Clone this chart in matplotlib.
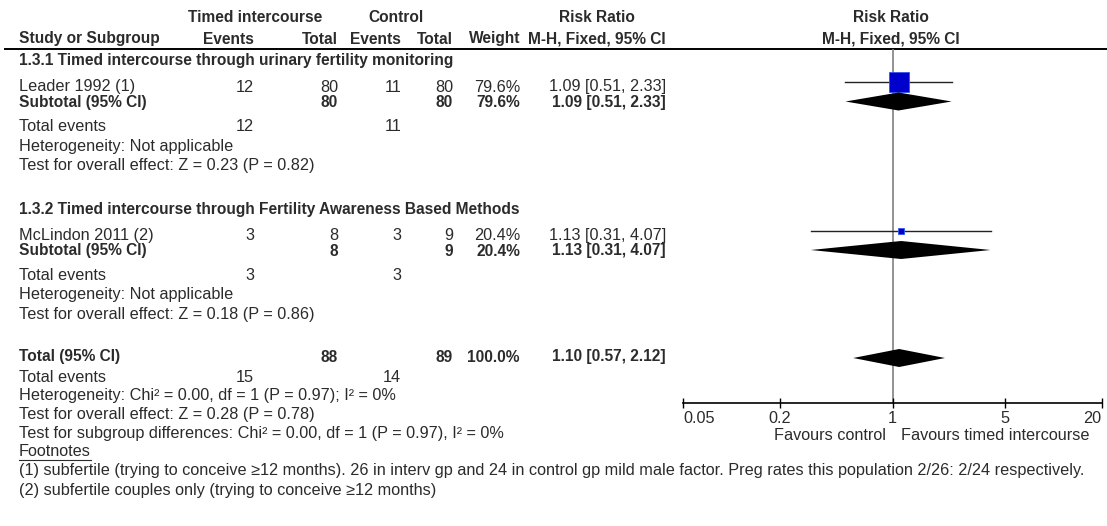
import matplotlib.pyplot as plt
from matplotlib.ticker import NullLocator

# Per-study data
studies = ["Leader 1992 (1)", "McLindon 2011 (2)"]
ti_events = [12, 3]
ti_total = [80, 8]
ctl_events = [11, 3]
ctl_total = [80, 9]
weights = [79.6, 20.4]
rr = [1.09, 1.13]
rr_lo = [0.51, 0.31]
rr_hi = [2.33, 4.07]

# Subgroup summaries
subgroups = ["1.3.1 Timed intercourse through urinary fertility monitoring",
             "1.3.2 Timed intercourse through Fertility Awareness Based Methods"]
sub_rr = [1.09, 1.13]
sub_lo = [0.51, 0.31]
sub_hi = [2.33, 4.07]
sub_overall = ["Test for overall effect: Z = 0.23 (P = 0.82)",
               "Test for overall effect: Z = 0.18 (P = 0.86)"]

# Pooled result
total_rr, total_lo, total_hi = 1.10, 0.57, 2.12
total_ti_events, total_ctl_events = 15, 14
total_weight = 100.0
total_notes = ["Heterogeneity: Chi² = 0.00, df = 1 (P = 0.97); I² = 0%",
               "Test for overall effect: Z = 0.28 (P = 0.78)",
               "Test for subgroup differences: Chi² = 0.00, df = 1 (P = 0.97), I² = 0%"]
footnotes = ["(1) subfertile (trying to conceive ≥12 months). 26 in interv gp and 24 in control gp mild male factor. "
             "Preg rates this population 2/26: 2/24 respectively.",
             "(2) subfertile couples only (trying to conceive ≥12 months)"]

axis_ticks = [0.05, 0.2, 1, 5, 20]
axis_labels = ["0.05", "0.2", "1", "5", "20"]

W, H = 1107, 526
plt.rcParams['font.family'] = ['Liberation Sans', 'DejaVu Sans']
FS, FS_B = 11.7, 11.2
TXT = '#2b2b2b'

fig = plt.figure(figsize=(W / 100, H / 100), dpi=100)
bg = fig.add_axes([0, 0, 1, 1])
bg.set_xlim(0, W)
bg.set_ylim(H, 0)
bg.axis('off')

# forest panel, y in pixel rows so it lines up with the table
px_left, px_right, px_top, px_axis = 683.3, 1101.7, 49, 403
ax = fig.add_axes([px_left / W, (H - px_axis) / H, (px_right - px_left) / W, (px_axis - px_top) / H])
ax.set_xscale('log')
ax.set_xlim(axis_ticks[0], axis_ticks[-1])
ax.patch.set_alpha(0)
for s in ['top', 'left', 'right']:
    ax.spines[s].set_visible(False)
ax.spines['bottom'].set_linewidth(1.2)
ax.set_yticks([])
ax.set_xticks(axis_ticks)
ax.set_xticklabels(axis_labels, color=TXT, fontsize=FS)
ax.xaxis.set_minor_locator(NullLocator())
ax.tick_params(axis='x', direction='inout', length=7, width=1, pad=2.5)
tl = ax.get_xticklabels()
tl[0].set_ha('left')
tl[-1].set_ha('right')
ax.axvline(1, color='#808080', lw=1.2, zorder=1)

ax.annotate("Favours control", xy=(1, 0), xycoords=('data', 'axes fraction'),
            xytext=(-5, -23.5), textcoords='offset points', ha='right', va='center',
            color=TXT, fontsize=FS)
ax.annotate("Favours timed intercourse", xy=(1, 0), xycoords=('data', 'axes fraction'),
            xytext=(6, -23.5), textcoords='offset points', ha='left', va='center',
            color=TXT, fontsize=FS)


def t(x, y, s, ha='left', bold=False):
    return bg.text(x, y, s, ha=ha, va='center', color=TXT,
                   fontweight='bold' if bold else 'normal',
                   fontsize=FS_B if bold else FS)


# header
X0 = 19
c_tie, c_tit, c_ce, c_ct, c_w, c_rr = 254, 338, 401, 453, 520, 666
t(255, 17, "Timed intercourse", 'center', True)
t(396, 17, "Control", 'center', True)
t(597, 17, "Risk Ratio", 'center', True)
t(891, 17, "Risk Ratio", 'center', True)
t(X0, 39, "Study or Subgroup", bold=True)
t(c_tie, 39, "Events", 'right', True)
t(c_tit, 39, "Total", 'right', True)
t(c_ce, 39, "Events", 'right', True)
t(c_ct, 39, "Total", 'right', True)
t(c_w, 39, "Weight", 'right', True)
t(597, 39, "M-H, Fixed, 95% CI", 'center', True)
t(891, 39, "M-H, Fixed, 95% CI", 'center', True)
bg.plot([5, W], [49, 49], color='black', lw=1.4)

# subgroup blocks
block_top = [61, 209.5]
for i in range(2):
    y0 = block_top[i]
    t(X0, y0, subgroups[i], bold=True)
    ys = y0 + 26
    t(X0, ys, studies[i])
    t(c_tie, ys, str(ti_events[i]), 'right')
    t(c_tit, ys, str(ti_total[i]), 'right')
    t(c_ce, ys, str(ctl_events[i]), 'right')
    t(c_ct, ys, str(ctl_total[i]), 'right')
    t(c_w, ys, f"{weights[i]:.1f}%", 'right')
    t(c_rr, ys, f"{rr[i]:.2f} [{rr_lo[i]:.2f}, {rr_hi[i]:.2f}]", 'right')
    ax.plot([rr_lo[i], rr_hi[i]], [ys - 5, ys - 5], color='#222222', lw=1, zorder=2)
    ax.plot(rr[i], ys - 5, marker='s', ms=0.25 * weights[i] * 0.72,
            mfc='#0000CC', mec='#3355EE', mew=0.6, zorder=3)

    ysub = ys + 15.5
    t(X0, ysub, "Subtotal (95% CI)", bold=True)
    t(c_tit, ysub, str(ti_total[i]), 'right', True)
    t(c_ct, ysub, str(ctl_total[i]), 'right', True)
    t(c_w, ysub, f"{weights[i]:.1f}%", 'right', True)
    t(c_rr, ysub, f"{sub_rr[i]:.2f} [{sub_lo[i]:.2f}, {sub_hi[i]:.2f}]", 'right', True)
    yd = ysub - 1
    ax.fill([sub_lo[i], sub_rr[i], sub_hi[i], sub_rr[i]], [yd, yd - 9, yd, yd + 9],
            color='black', lw=0, zorder=3)

    ye = ysub + 24
    t(X0, ye, "Total events")
    t(c_tie, ye, str(ti_events[i]), 'right')
    t(c_ce, ye, str(ctl_events[i]), 'right')
    t(X0, ye + 19.5, "Heterogeneity: Not applicable")
    t(X0, ye + 39, sub_overall[i])

# overall
yt = 357
t(X0, yt, "Total (95% CI)", bold=True)
t(c_tit, yt, str(sum(ti_total)), 'right', True)
t(c_ct, yt, str(sum(ctl_total)), 'right', True)
t(c_w, yt, f"{total_weight:.1f}%", 'right', True)
t(c_rr, yt, f"{total_rr:.2f} [{total_lo:.2f}, {total_hi:.2f}]", 'right', True)
ax.fill([total_lo, total_rr, total_hi, total_rr], [yt + 1, yt - 8, yt + 1, yt + 10],
        color='black', lw=0, zorder=3)
ax.set_ylim(px_axis, px_top)

t(X0, yt + 20, "Total events")
t(c_tie, yt + 20, str(total_ti_events), 'right')
t(c_ce, yt + 20, str(total_ctl_events), 'right')
for k, s in enumerate(total_notes):
    t(X0, yt + 38.5 + 19 * k, s)

fn = t(X0, 451, "Footnotes")
for k, s in enumerate(footnotes):
    t(X0, 471 + 19 * k, s)

# underline for the footnotes heading
fig.canvas.draw()
bb = fn.get_window_extent().transformed(bg.transData.inverted())
bg.plot([bb.x0, bb.x1], [460, 460], color=TXT, lw=0.8)

fig.savefig("out.png", dpi=100)
